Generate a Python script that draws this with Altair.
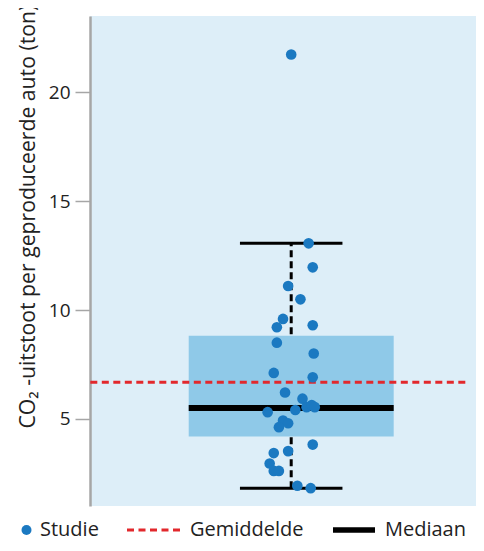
import altair as alt
import pandas as pd

# ---- data ----
values = [21.73, 13.06, 11.96, 11.10, 10.49, 9.59, 9.21, 9.30, 8.50, 8.00,
          7.11, 6.91, 6.21, 5.93, 5.41, 5.54, 5.64, 5.54, 5.31, 4.92,
          4.80, 4.62, 3.82, 3.52, 3.43, 2.95, 2.61, 2.61, 1.93, 1.82]
jitter = [0.00, 0.17, 0.21, -0.03, 0.09, -0.08, -0.14, 0.21, -0.14, 0.22,
          -0.17, 0.21, -0.06, 0.11, 0.04, 0.15, 0.20, 0.23, -0.23, -0.08,
          -0.03, -0.12, 0.21, -0.03, -0.17, -0.21, -0.17, -0.12, 0.06, 0.19]

q1, q3 = 4.19, 8.82
median = 5.50
mean = 6.68
whisker_lo, whisker_hi = 1.82, 13.06

series = ["Studie", "Gemiddelde", "Mediaan"]
colors = ["#1b79c1", "#e2282c", "#000000"]
y_ticks = [5, 10, 15, 20]

FONT = "Open Sans"
TEXT = "#222222"
xdom = [-1.963, 1.803]
ydom = [1.0, 23.5]

pts = pd.DataFrame({"x": jitter, "y": values, "s": series[0]})
stats = pd.DataFrame([{
    "c": 0.0, "bl": -1.0, "br": 1.0,
    "q1": q1, "q3": q3, "lo": whisker_lo, "hi": whisker_hi,
}])
caps = pd.DataFrame({"v": [whisker_lo, whisker_hi], "cl": -0.5, "cr": 0.5})
mean_df = pd.DataFrame({"v": [mean], "ml": -1.96, "mr": 1.725, "s": series[1]})
med_df = pd.DataFrame({"v": [median], "bl": -1.0, "br": 1.0, "s": series[2]})

xs = alt.Scale(domain=xdom, nice=False, zero=False)
ys = alt.Scale(domain=ydom, nice=False, zero=False)

yaxis = alt.Axis(
    values=y_ticks, grid=False,
    title="CO\u2082 -uitstoot per geproduceerde auto (ton)",
    titleFont=FONT, titleFontSize=21.2, titleFontWeight="normal", titleColor=TEXT,
    titleAngle=270, titleAlign="left", titleY=412, titlePadding=10,
    labelFont=FONT, labelFontSize=19, labelColor=TEXT, labelPadding=5,
    tickSize=15, tickColor="#a6a6a6", tickWidth=1.5,
    domainColor="#a6a6a6", domainWidth=2.5,
)

CENTER = 530 - 16
common = dict(title=None, orient="none", direction="horizontal",
              labelFont=FONT, labelFontSize=20, labelColor=TEXT)

leg_studie = alt.Legend(legendX=-73.5, legendY=CENTER - 10, symbolType="circle", symbolSize=100,
                        symbolStrokeWidth=0, symbolOpacity=1, labelOffset=3.5, **common)
leg_gem = alt.Legend(legendX=35.5, legendY=CENTER - 28, symbolType="stroke", symbolSize=2809,
                     symbolStrokeWidth=3, symbolStrokeColor=colors[1],
                     labelOffset=8.5, **common)
leg_med = alt.Legend(legendX=240, legendY=CENTER - 24, symbolType="M-1,0L1,0", symbolSize=1764,
                     symbolStrokeWidth=5.5, symbolStrokeColor=colors[2],
                     symbolFillColor="transparent", labelOffset=7, **common)

whisker = alt.Chart(stats).mark_rule(color="black", strokeWidth=3, strokeDash=[7, 4]).encode(
    x=alt.X("c:Q", scale=xs, axis=None),
    y=alt.Y("lo:Q", scale=ys, axis=yaxis),
    y2="hi:Q",
)
box = alt.Chart(stats).mark_rect(color="#8fc9e8").encode(
    x=alt.X("bl:Q", scale=xs, axis=None), x2="br:Q",
    y=alt.Y("q1:Q", scale=ys, axis=yaxis), y2="q3:Q",
)
cap = alt.Chart(caps).mark_rule(color="black", strokeWidth=3).encode(
    x=alt.X("cl:Q", scale=xs, axis=None), x2="cr:Q",
    y=alt.Y("v:Q", scale=ys, axis=yaxis),
)
med_rule = alt.Chart(med_df).mark_rule(strokeWidth=6, color=colors[2]).encode(
    x=alt.X("bl:Q", scale=xs, axis=None), x2="br:Q",
    y=alt.Y("v:Q", scale=ys, axis=yaxis),
    strokeDash=alt.StrokeDash("s:N", scale=alt.Scale(domain=[series[2]], range=[[1, 0]]), legend=leg_med),
)
mean_rule = alt.Chart(mean_df).mark_rule(strokeWidth=3, color=colors[1]).encode(
    x=alt.X("ml:Q", scale=xs, axis=None), x2="mr:Q",
    y=alt.Y("v:Q", scale=ys, axis=yaxis),
    strokeDash=alt.StrokeDash("s:N", scale=alt.Scale(domain=[series[1]], range=[[7, 4.5]]), legend=leg_gem),
)
points = alt.Chart(pts).mark_circle(size=113, opacity=1).encode(
    x=alt.X("x:Q", scale=xs, axis=None),
    y=alt.Y("y:Q", scale=ys, axis=yaxis),
    color=alt.Color("s:N", scale=alt.Scale(domain=[series[0]], range=[colors[0]]), legend=leg_studie),
)

chart = alt.layer(whisker, box, cap, med_rule, mean_rule, points).resolve_scale(
    strokeDash="independent"
).properties(
    width=386, height=490,
    autosize=alt.AutoSizeParams(type="none"),
    padding={"left": 82, "top": 8, "right": 0, "bottom": 37},
).configure_view(fill="#ddeef8", stroke=None)

chart.save("out.html", embed_options={"renderer": "svg", "actions": False})
